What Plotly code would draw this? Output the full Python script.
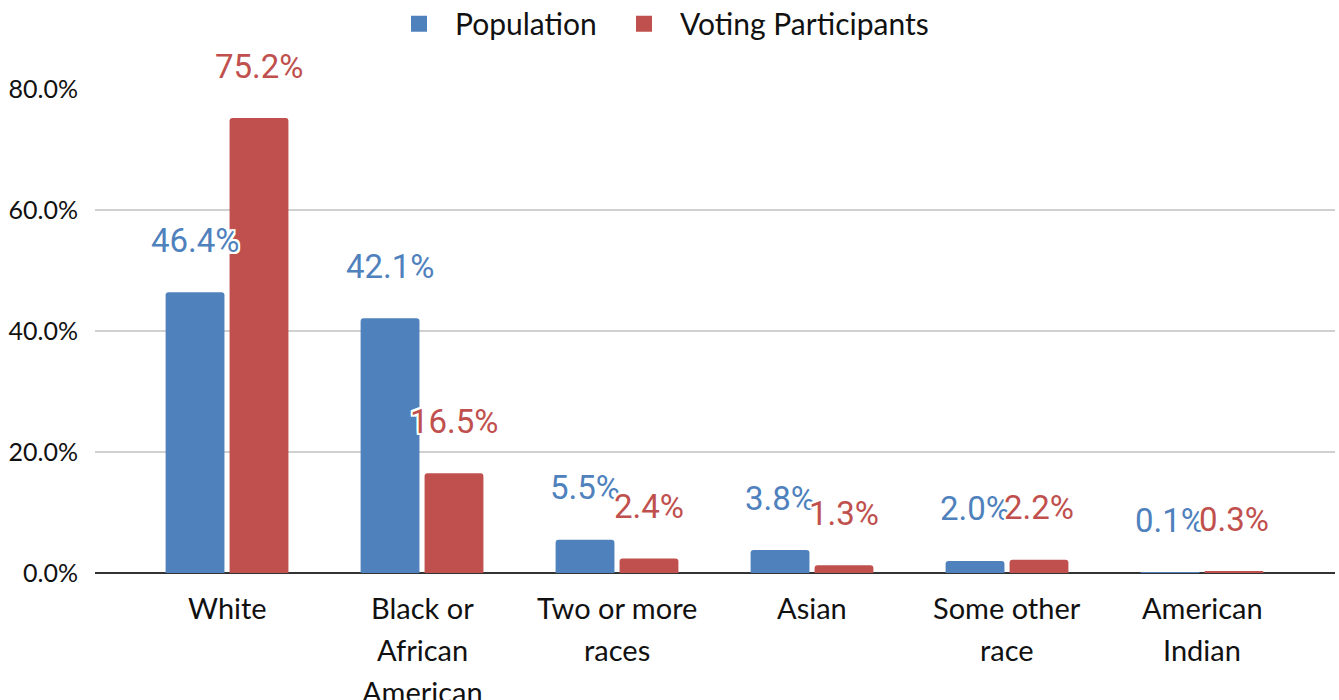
import plotly.graph_objects as go

categories = ["White", "Black or African American", "Two or more races", "Asian", "Some other race", "American Indian"]
category_lines = [["White"], ["Black or", "African", "American"], ["Two or more", "races"], ["Asian"], ["Some other", "race"], ["American", "Indian"]]
population = [0.464, 0.421, 0.055, 0.038, 0.020, 0.001]
voting = [0.752, 0.165, 0.024, 0.013, 0.022, 0.003]
y_ticks = [0, 0.2, 0.4, 0.6, 0.8]

BLUE = "#4F81BD"
RED = "#C0504D"
SHADOW = "2px 2px 0 #fff, -2px -2px 0 #fff, 2px -2px 0 #fff, -2px 2px 0 #fff, 0 2px 0 #fff, 0 -2px 0 #fff, 2px 0 0 #fff, -2px 0 0 #fff"

fig = go.Figure()
fig.add_trace(go.Bar(x=categories, y=population, name="Population", marker_color=BLUE,
                     marker_line_width=0, showlegend=False))
fig.add_trace(go.Bar(x=categories, y=voting, name="Voting Participants", marker_color=RED,
                     marker_line_width=0, showlegend=False))
# legend entries with larger square swatches
for name, color, leg in [("Population", BLUE, "legend"), ("Voting Participants", RED, "legend2")]:
    fig.add_trace(go.Scatter(x=[None], y=[None], mode="markers", name=name, legend=leg,
                             marker=dict(symbol="square", size=20, color=color)))

annotations = []
for series, color, offset in [(population, BLUE, -1), (voting, RED, 1)]:
    for i, v in enumerate(series):
        annotations.append(dict(
            x=i, y=v, xref="x", yref="y", text=f"{v*100:.1f}%", showarrow=False,
            xshift=offset * 32, yshift=52, yanchor="middle", xanchor="center",
            font=dict(family="Roboto", size=33, color=color, shadow=SHADOW),
        ))

for i, lines in enumerate(category_lines):
    for j, line in enumerate(lines):
        annotations.append(dict(
            x=i, y=0, xref="x", yref="paper", text=line, showarrow=False,
            yanchor="middle", yshift=-34 - 42 * j,
            font=dict(family="Lato", size=29, color="#111111"),
        ))

legend_common = dict(orientation="h", xref="container", xanchor="left", y=1.135, yanchor="middle",
                     itemwidth=62, font=dict(family="Lato", size=30, color="#111111"))

fig.update_layout(
    width=1339, height=700,
    margin=dict(l=95, r=4, t=89, b=127, autoexpand=False),
    paper_bgcolor="white", plot_bgcolor="white",
    barmode="group", bargap=0.344, bargroupgap=0.08, barcornerradius=3,
    font=dict(family="Lato", color="#111111"),
    legend=dict(legend_common, x=383 / 1339),
    legend2=dict(legend_common, x=608 / 1339),
    annotations=annotations,
    xaxis=dict(type="category", range=[-0.677, 5.682], showticklabels=False, ticks="",
               showline=False, showgrid=False, zeroline=False, automargin=False),
    yaxis=dict(range=[0, 0.8], tickvals=y_ticks, tickformat=".1%", showgrid=True,
               gridcolor="#d0d0d0", gridwidth=2, zeroline=True, zerolinecolor="#333333",
               zerolinewidth=2, tickfont=dict(family="Lato", size=25, color="#111111"),
               ticks="", ticklabelstandoff=16, automargin=False),
)

fig.write_html("out.html", config={"displayModeBar": False},
               post_script="document.body.style.margin='0';document.body.style.overflow='hidden';")
